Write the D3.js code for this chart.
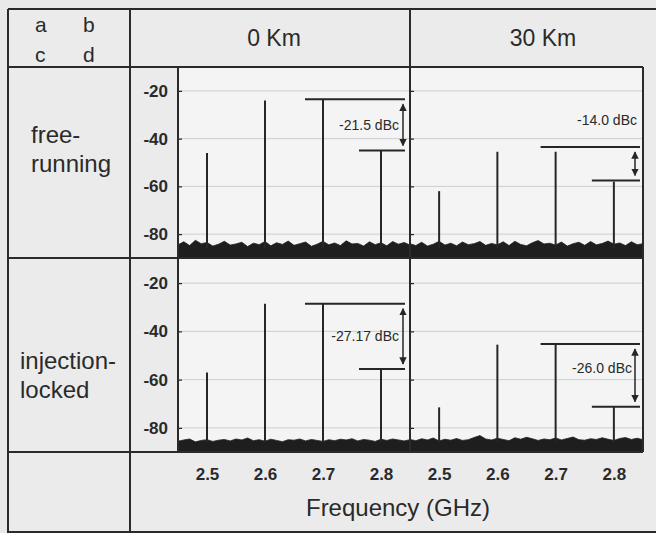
<!DOCTYPE html>
<html>
<head>
<meta charset="utf-8">
<script src="https://cdn.jsdelivr.net/npm/d3@7"></script>
<style>
  body { margin: 0; background: #e9e9e9; }
  svg { display: block; font-family: "Liberation Sans", Arial, sans-serif; }
</style>
</head>
<body>
<svg class="chart" width="656" height="533"></svg>
<script>
// tone / IMD frequencies (GHz) and spur levels (dBm) for each panel
const freqs = [2.5, 2.6, 2.7, 2.8]
const freeRun0 = [-46, -24, -23.5, -45]
const freeRun30 = [-62, -45.5, -45.5, -58]
const injLock0 = [-57, -28.5, -28.5, -55.5]
const injLock30 = [-71.5, -45.5, -45.5, -71.3]

// dBc markers
const dbcLabels = ['-21.5 dBc', '-14.0 dBc', '-27.17 dBc', '-26.0 dBc']
const markHi = [-23.5, -43.5, -28.5, -45.2]
const markLo = [-45, -57.5, -55.6, -71.2]

const yTicks = [-20, -40, -60, -80]
const xTicks = [2.5, 2.6, 2.7, 2.8]

// noise floor
const noiseFreq = [2.45, 2.46, 2.47, 2.48, 2.49, 2.50, 2.51, 2.52, 2.53, 2.54, 2.55, 2.56, 2.57, 2.58,
  2.59, 2.60, 2.61, 2.62, 2.63, 2.64, 2.65, 2.66, 2.67, 2.68, 2.69, 2.70, 2.71, 2.72, 2.73, 2.74,
  2.75, 2.76, 2.77, 2.78, 2.79, 2.80, 2.81, 2.82, 2.83, 2.84, 2.85]
const noiseA = [-84.5, -83.2, -84.8, -82.6, -84.0, -83.5, -85.0, -84.2, -83.0, -84.6, -84.1, -83.4, -85.2, -83.8,
  -84.4, -83.1, -84.9, -83.6, -84.3, -82.9, -84.7, -84.0, -83.3, -85.1, -84.2, -83.0, -84.5, -83.7, -84.8, -82.8,
  -84.1, -83.9, -85.0, -83.2, -84.4, -83.6, -84.9, -83.1, -84.2, -83.5, -84.6]
const noiseB = [-84.0, -84.8, -83.4, -85.0, -84.2, -83.0, -84.6, -83.8, -84.9, -83.3, -84.4, -84.0, -83.1, -84.7,
  -83.9, -84.5, -83.2, -84.8, -83.0, -84.3, -84.9, -83.6, -82.7, -84.1, -83.8, -84.6, -83.3, -85.0, -84.0, -83.4,
  -84.7, -83.1, -84.5, -83.9, -82.9, -84.2, -83.7, -84.8, -83.2, -84.4, -84.0]
const noiseC = [-85.5, -85.0, -84.6, -85.8, -85.2, -84.9, -85.6, -85.1, -84.8, -85.4, -84.6, -85.0, -84.2, -85.3,
  -84.9, -85.5, -84.7, -85.2, -85.7, -84.9, -85.1, -84.6, -85.4, -84.8, -85.2, -85.6, -84.9, -85.3, -84.7, -85.0,
  -84.5, -85.4, -84.8, -85.1, -85.6, -84.7, -85.2, -84.6, -85.0, -85.4, -84.9]
const noiseD = [-84.8, -85.3, -84.5, -85.0, -84.2, -85.4, -84.7, -85.1, -84.4, -85.2, -84.9, -84.0, -83.2, -84.6,
  -85.0, -84.3, -84.8, -85.3, -84.1, -84.7, -83.9, -84.5, -85.2, -84.6, -84.9, -84.2, -85.0, -84.4, -83.8, -84.9,
  -85.1, -84.5, -84.8, -84.1, -84.7, -85.2, -84.4, -84.0, -84.8, -84.3, -84.9]

const panels = [
  { levels: freeRun0, noise: noiseA, col: 0, row: 0 },
  { levels: freeRun30, noise: noiseB, col: 1, row: 0 },
  { levels: injLock0, noise: noiseC, col: 0, row: 1 },
  { levels: injLock30, noise: noiseD, col: 1, row: 1 }
]

const colX = [[178, 410], [410, 643]]
const rowY = [[67, 258], [259, 452]]

const svg = d3.select('.chart')
const ink = '#262626'

svg.append('defs').append('marker')
  .attr('id', 'ah')
  .attr('viewBox', '0 0 10 10')
  .attr('refX', 9).attr('refY', 5)
  .attr('markerWidth', 5).attr('markerHeight', 5)
  .attr('orient', 'auto-start-reverse')
  .append('path').attr('d', 'M0,0L10,5L0,10Z').attr('fill', ink)

// label cells background
svg.append('rect').attr('x', 8).attr('y', 9).attr('width', 648).attr('height', 524).attr('fill', '#ebebeb')

panels.forEach(function (p, i) {
  const x = d3.scaleLinear([2.45, 2.85], colX[p.col])
  const y = d3.scaleLinear([-90, -10], [rowY[p.row][1], rowY[p.row][0]])
  const g = svg.append('g')

  g.append('rect')
    .attr('x', colX[p.col][0]).attr('y', rowY[p.row][0])
    .attr('width', colX[p.col][1] - colX[p.col][0])
    .attr('height', rowY[p.row][1] - rowY[p.row][0])
    .attr('fill', '#f4f4f4')

  g.selectAll('.grid')
    .data(yTicks)
    .join('line')
    .attr('x1', colX[p.col][0]).attr('x2', colX[p.col][1])
    .attr('y1', d => y(d)).attr('y2', d => y(d))
    .attr('stroke', '#cdcdcd').attr('stroke-width', 1)

  const yAxis = d3.axisRight(y).tickValues(yTicks).tickSize(4).tickFormat('')
  g.append('g')
    .attr('transform', `translate(${colX[p.col][0]},0)`)
    .call(yAxis)
    .call(a => a.select('.domain').remove())
    .call(a => a.selectAll('line').attr('stroke', ink).attr('stroke-width', 1.2))

  const area = d3.area()
    .x((d, j) => x(noiseFreq[j]))
    .y0(y(-90))
    .y1(d => y(d))
  g.append('path')
    .datum(p.noise)
    .attr('d', area)
    .attr('fill', '#1e1e1e')
    .attr('stroke', '#1e1e1e')
    .attr('stroke-width', 0.8)

  g.selectAll('.spur')
    .data(p.levels)
    .join('line')
    .attr('x1', (d, j) => x(freqs[j])).attr('x2', (d, j) => x(freqs[j]))
    .attr('y1', y(-86)).attr('y2', d => y(d))
    .attr('stroke', ink).attr('stroke-width', 2)

  // dBc annotation
  const hi = y(markHi[i]), lo = y(markLo[i])
  const right = p.col === 0 ? colX[0][1] - 5 : colX[1][1] - 3
  const arrowX = p.col === 0 ? right - 2 : right - 5
  const hiStart = p.col === 0 ? x(2.7) - 18 : x(2.7) - 15
  const loStart = x(2.8) - 22
  g.append('line').attr('x1', hiStart).attr('x2', right).attr('y1', hi).attr('y2', hi)
    .attr('stroke', ink).attr('stroke-width', 2)
  g.append('line').attr('x1', loStart).attr('x2', right).attr('y1', lo).attr('y2', lo)
    .attr('stroke', ink).attr('stroke-width', 2)
  g.append('line').attr('x1', arrowX).attr('x2', arrowX).attr('y1', hi + 5).attr('y2', lo - 5)
    .attr('stroke', ink).attr('stroke-width', 1.5)
    .attr('marker-start', 'url(#ah)').attr('marker-end', 'url(#ah)')
  let ly = (hi + lo) / 2 + 5
  let lx = arrowX - 4
  if (i === 1) { ly = hi - 22; lx = right - 3 }
  if (i === 3) { ly = (hi + lo) / 2 - 2; lx = arrowX - 3 }
  g.append('text')
    .attr('x', lx).attr('y', ly)
    .attr('text-anchor', 'end')
    .attr('font-size', 14)
    .attr('fill', '#2a2a2a')
    .text(dbcLabels[i])

  if (p.col === 0) {
    g.selectAll('.ylab')
      .data(yTicks)
      .join('text')
      .attr('x', 168).attr('y', d => y(d) + 6)
      .attr('text-anchor', 'end')
      .attr('font-size', 17).attr('font-weight', 'bold').attr('fill', '#2a2a2a')
      .text(d => d)
  }
  if (p.row === 1) {
    const xAxis = d3.axisBottom(x).tickValues(xTicks).tickSize(0).tickPadding(16).tickFormat(d3.format('.1f'))
    g.append('g')
      .attr('transform', `translate(0,${rowY[1][1]})`)
      .call(xAxis)
      .call(a => a.select('.domain').remove())
      .call(a => a.selectAll('text').attr('font-size', 17).attr('font-weight', 'bold').attr('fill', '#2a2a2a')
        .attr('font-family', '"Liberation Sans", Arial, sans-serif'))
  }
})

// table rules
const rules = [
  [8, 9, 656, 9], [8, 67, 643, 67], [8, 258, 643, 258], [8, 452, 643, 452], [8, 532, 656, 532],
  [8, 9, 8, 533], [130, 9, 130, 533], [178, 67, 178, 452], [410, 9, 410, 452], [643, 67, 643, 452]
]
svg.selectAll('.rule')
  .data(rules)
  .join('line')
  .attr('x1', d => d[0]).attr('y1', d => d[1]).attr('x2', d => d[2]).attr('y2', d => d[3])
  .attr('stroke', '#2a2a2a').attr('stroke-width', 2)

const txt = (s, x, y, size, anchor) => svg.append('text')
  .attr('x', x).attr('y', y).attr('font-size', size)
  .attr('text-anchor', anchor || 'start').attr('fill', '#2a2a2a').text(s)

txt('a', 35, 32, 21); txt('b', 83, 32, 21)
txt('c', 35, 62, 21); txt('d', 83, 62, 21)
txt('0 Km', 274, 46, 23, 'middle')
txt('30 Km', 543, 46, 23, 'middle')
txt('free-', 31, 143, 24); txt('running', 31, 172, 24)
txt('injection-', 20, 369, 24); txt('locked', 20, 398, 24)
txt('Frequency (GHz)', 398, 516, 24, 'middle')
</script>
</body>
</html>
